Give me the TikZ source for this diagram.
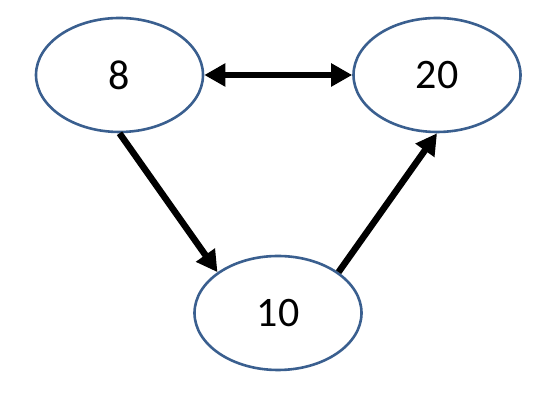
\documentclass[tikz,border=0pt]{standalone}
\usepackage{fontspec}
\setmainfont{Carlito}
\usetikzlibrary{shapes.geometric,arrows.meta}
\definecolor{ringblue}{HTML}{3A5F8F}
\tikzset{
  ring/.style={ellipse,draw=ringblue,line width=2.6pt,minimum width=167pt,minimum height=114pt,inner sep=0pt,font=\fontsize{42}{46}\selectfont},
  link/.style={line width=6.5pt,-{Triangle[length=21pt,width=22pt]}},
  dlink/.style={line width=6.5pt,{Triangle[length=21pt,width=22pt]}-{Triangle[length=21pt,width=22pt]}}
}
\begin{document}
\begin{tikzpicture}[x=1pt,y=1pt]
\useasboundingbox (0,0) rectangle (559,395);
\node[ring] (a) at (119.5,320) {8};
\node[ring] (b) at (437,320) {20};
\node[ring] (c) at (278,82) {10};
\draw[dlink] (a.east) -- (b.west);
\draw[link] (a.south) -- (c.146);
\draw[link] (c.34) -- (b.south);
\end{tikzpicture}
\end{document}
